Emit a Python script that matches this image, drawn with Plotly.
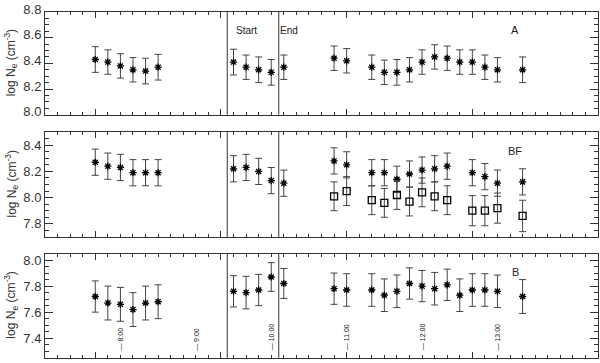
import plotly.graph_objects as go
import pandas as pd

times_A = ['07:40', '07:50', '08:00', '08:10', '08:20', '08:30',
           '09:30', '09:40', '09:50', '10:00', '10:10',
           '10:50', '11:00', '11:20', '11:30', '11:40', '11:50', '12:00',
           '12:10', '12:20', '12:30', '12:40', '12:50', '13:00', '13:20']
ne_A = [8.43, 8.41, 8.38, 8.35, 8.34, 8.37,
        8.41, 8.37, 8.35, 8.33, 8.37,
        8.44, 8.42, 8.37, 8.33, 8.33, 8.35, 8.41,
        8.45, 8.44, 8.41, 8.41, 8.37, 8.35, 8.35]
err_A = [0.10, 0.095, 0.095, 0.095, 0.10, 0.10,
         0.10, 0.095, 0.10, 0.10, 0.095,
         0.095, 0.095, 0.095, 0.095, 0.10, 0.095, 0.095,
         0.095, 0.095, 0.095, 0.095, 0.095, 0.095, 0.10]

times_BF = ['07:40', '07:50', '08:00', '08:10', '08:20', '08:30',
            '09:30', '09:40', '09:50', '10:00', '10:10',
            '10:50', '11:00', '11:20', '11:30', '11:40', '11:50', '12:00',
            '12:10', '12:20', '12:40', '12:50', '13:00', '13:20']
ne_BF = [8.27, 8.24, 8.23, 8.19, 8.19, 8.19,
         8.22, 8.23, 8.20, 8.13, 8.11,
         8.28, 8.25, 8.19, 8.19, 8.14, 8.18, 8.21,
         8.22, 8.24, 8.19, 8.16, 8.11, 8.12]
err_BF = [0.10] * 24

times_BF_sq = ['10:50', '11:00', '11:20', '11:30', '11:40', '11:50', '12:00',
               '12:10', '12:20', '12:40', '12:50', '13:00', '13:20']
ne_BF_sq = [8.01, 8.05, 7.98, 7.96, 8.02, 7.97, 8.04,
            8.01, 7.98, 7.90, 7.90, 7.92, 7.86]
err_BF_sq = [0.11, 0.11, 0.11, 0.11, 0.11, 0.11, 0.11,
             0.11, 0.11, 0.115, 0.115, 0.115, 0.12]

times_B = times_A
ne_B = [7.72, 7.67, 7.66, 7.62, 7.67, 7.68,
        7.76, 7.75, 7.77, 7.87, 7.82,
        7.78, 7.77, 7.77, 7.73, 7.76, 7.82, 7.80,
        7.78, 7.81, 7.73, 7.77, 7.77, 7.76, 7.72]
err_B = [0.12, 0.13, 0.13, 0.13, 0.13, 0.13,
         0.12, 0.125, 0.12, 0.11, 0.115,
         0.12, 0.125, 0.125, 0.125, 0.125, 0.12, 0.12,
         0.125, 0.12, 0.125, 0.125, 0.125, 0.125, 0.13]

hour_ticks = ['08:00', '09:00', '10:00', '11:00', '12:00', '13:00']
hour_labels = ['8:00', '9:00', '10:00', '11:00', '12:00', '13:00']

t_start, t_end = '09:25', '10:06'
panel_names = ['A', 'BF', 'B']
y_ranges = [[7.9995, 8.8005], [7.7, 8.5], [7.25, 8.05]]


def ts(t):
    return pd.to_datetime('2000-01-01 ' + t)


def tl(lst):
    return [ts(t) for t in lst]


H = 363.0
W = 600.0
x_dom = [45 / W, 598 / W]
y_doms = [[(H - 109) / H, (H - 2) / H],
          [(H - 236) / H, (H - 127) / H],
          [(H - 361.7) / H, (H - 253.3) / H]]
label_shift = [-3, 0, 0]

ink = '#222222'
font = 'Liberation Sans, Arial, sans-serif'

fig = go.Figure()


def add_series(idx, times, vals, errs, symbol, size):
    ax = '' if idx == 1 else str(idx)
    fig.add_trace(go.Scatter(
        x=tl(times), y=vals, mode='markers',
        xaxis='x' + ax, yaxis='y' + ax,
        marker=dict(symbol=symbol, size=size, color='black',
                    line=dict(color='black', width=1.3)),
        error_y=dict(type='data', array=errs, visible=True,
                     color='#444444', thickness=1, width=3.5),
        showlegend=False))


add_series(1, times_A, ne_A, err_A, 'asterisk-open', 6)
add_series(2, times_BF, ne_BF, err_BF, 'asterisk-open', 6)
add_series(2, times_BF_sq, ne_BF_sq, err_BF_sq, 'square-open', 7)
add_series(3, times_B, ne_B, err_B, 'asterisk-open', 6)

layout = dict(width=600, height=363, margin=dict(l=0, r=0, t=0, b=0),
              paper_bgcolor='white', plot_bgcolor='white',
              font=dict(family=font, color=ink))

shapes = []
annotations = []
for i in range(3):
    ax = '' if i == 0 else str(i + 1)
    layout['xaxis' + ax] = dict(
        type='date', domain=x_dom, anchor='y' + ax,
        range=[ts('07:00'), ts('14:20')],
        showline=True, linecolor='#333333', linewidth=1, mirror='ticks',
        ticks='inside', ticklen=6, tickcolor='#333333',
        tick0=ts('07:40'), dtick=6000000, showticklabels=False,
        showgrid=False, zeroline=False,
        minor=dict(ticks='inside', ticklen=3, dtick=600000,
                   tick0=ts('07:00'), tickcolor='#333333', showgrid=False))
    layout['yaxis' + ax] = dict(
        domain=y_doms[i], anchor='x' + ax, range=y_ranges[i],
        showline=True, linecolor='#333333', linewidth=1, mirror='ticks',
        ticks='inside', ticklen=8, tickcolor='#333333',
        tick0=7.0, dtick=0.2, tickformat='.1f',
        tickfont=dict(size=13, color='#333333'),
        ticklabeloverflow='allow', ticklabelshift=label_shift[i],
        showgrid=False, zeroline=False,
        minor=dict(ticks='inside', ticklen=4, dtick=0.05,
                   tickcolor='#333333', showgrid=False))

    for t in (t_start, t_end):
        shapes.append(dict(type='line', xref='x' + ax, yref='y' + ax + ' domain',
                           x0=ts(t), x1=ts(t), y0=0, y1=1,
                           line=dict(color='#333333', width=1)))

    annotations.append(dict(
        text='log N<sub>e</sub> (cm<sup>-3</sup>)', textangle=-90,
        xref='paper', yref='paper', x=11 / W, xanchor='center',
        y=sum(y_doms[i]) / 2, yanchor='middle', showarrow=False,
        font=dict(size=12, color='#333333')))

    annotations.append(dict(
        text=panel_names[i], xref='x' + ax, yref='y' + ax + ' domain',
        x=ts('13:14'), y=0.9, showarrow=False,
        font=dict(size=11, color=ink)))

annotations.append(dict(text='Start', xref='x', yref='y domain',
                        x=ts('09:40'), y=0.89, showarrow=False,
                        font=dict(size=10, color=ink)))
annotations.append(dict(text='End', xref='x', yref='y domain',
                        x=ts('10:14'), y=0.89, showarrow=False,
                        font=dict(size=10, color=ink)))

for t, lab in zip(hour_ticks, hour_labels):
    annotations.append(dict(
        text='\u2014 ' + lab, textangle=-90, xref='x3', yref='y3',
        x=ts(t), y=7.29, yanchor='bottom', showarrow=False,
        font=dict(size=7, color='#111111')))

layout['shapes'] = shapes
layout['annotations'] = annotations
fig.update_layout(**layout)

# drop the browser's default body margin so the figure sits at (0, 0)
fig.write_html("out.html", config={'displayModeBar': False},
               post_script="document.body.style.margin='0px';"
                           "document.body.style.overflow='hidden';")
